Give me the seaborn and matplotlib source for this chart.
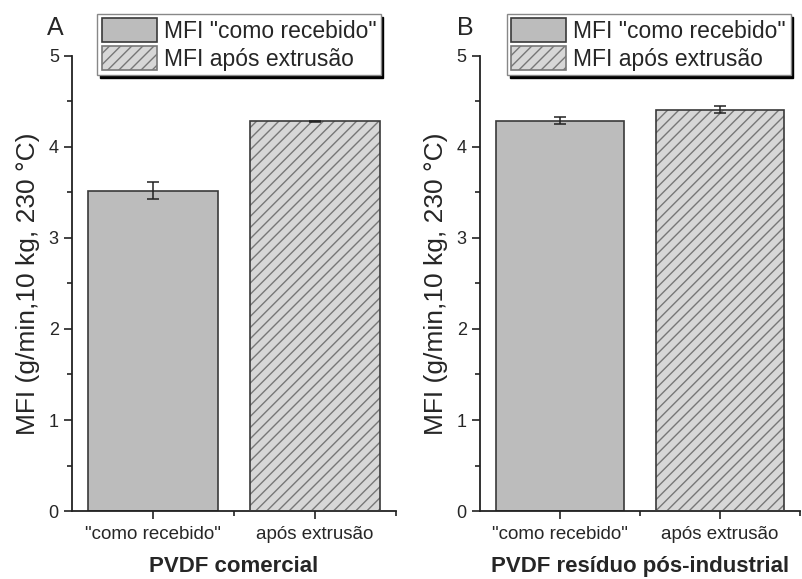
import matplotlib
matplotlib.use("Agg")
import matplotlib.pyplot as plt
from matplotlib.patches import Patch, Rectangle
from matplotlib.ticker import MultipleLocator, FixedLocator
import seaborn as sns
import pandas as pd

sns.set_style("ticks")
plt.rcParams["font.family"] = ["Liberation Sans", "DejaVu Sans"]

# MFI data (g/10 min, 10 kg, 230 °C)
categories = ['"como recebido"', "após extrusão"]
mfi_comercial = [3.52, 4.28]
err_comercial = [0.09, 0.01]
mfi_residuo = [4.29, 4.41]
err_residuo = [0.035, 0.035]
panel_letters = ["A", "B"]
panel_titles = ["PVDF comercial", "PVDF resíduo pós-industrial"]
legend_labels = ['MFI "como recebido"', "MFI após extrusão"]
y_label = "MFI (g/min,10 kg, 230 °C)"

solid_color = "#bcbcbc"
hatch_face = "#d7d7d7"
hatch_line = "#777777"
edge_color = "#3a3a3a"

fig = plt.figure(figsize=(8.02, 5.79), dpi=100)
axes = [fig.add_axes([0.0898, 0.1174, 0.404, 0.786]),
        fig.add_axes([0.5985, 0.1174, 0.399, 0.786])]

datasets = [(mfi_comercial, err_comercial), (mfi_residuo, err_residuo)]
letter_x = [0.0686, 0.580]
legend_x = [0.121, 0.632]

for ax, (vals, errs), letter, title, lx, gx in zip(
        axes, datasets, panel_letters, panel_titles, letter_x, legend_x):
    df = pd.DataFrame({"cat": categories, "mfi": vals})
    sns.barplot(data=df, x="cat", y="mfi", hue="cat",
                palette=[solid_color, hatch_face], width=0.8,
                errorbar=None, legend=False, ax=ax, saturation=1)
    bars = ax.patches
    bars[0].set_edgecolor(edge_color)
    bars[0].set_linewidth(1.2)
    # hatched bar: grey hatch lines, dark outline drawn on top
    hb = bars[1]
    hb.set_edgecolor(hatch_line)
    hb.set_hatch("///")
    hb.set_linewidth(0)
    ax.add_patch(Rectangle((hb.get_x(), hb.get_y()), hb.get_width(),
                           hb.get_height(), fill=False,
                           edgecolor=edge_color, linewidth=1.2, zorder=3))
    ax.errorbar(range(len(vals)), vals, yerr=errs, fmt="none",
                ecolor="#222222", elinewidth=1.1, capsize=4, capthick=1.1,
                zorder=4)

    ax.set_xlim(-0.5, 1.5)
    ax.set_ylim(0, 5)
    ax.yaxis.set_major_locator(MultipleLocator(1))
    ax.yaxis.set_minor_locator(MultipleLocator(0.5))
    ax.xaxis.set_minor_locator(FixedLocator([0.5, 1.5]))
    ax.tick_params(axis="both", which="major", direction="out", length=6,
                   width=1.2, labelsize=13, color="#222222")
    ax.tick_params(axis="x", which="major", labelsize=13.5, pad=5)
    ax.tick_params(axis="both", which="minor", direction="out", length=3.5,
                   width=1.2, color="#222222")
    for s in ["left", "bottom"]:
        ax.spines[s].set_linewidth(1.3)
        ax.spines[s].set_color("#222222")
    sns.despine(ax=ax)
    ax.set_ylabel(y_label, fontsize=19, labelpad=6)
    ax.set_xlabel(title, fontsize=16, fontweight="bold", labelpad=9)

    fig.text(lx, 0.951, letter, fontsize=18, ha="center", va="center")

    handles = [Patch(facecolor=solid_color, edgecolor=edge_color, linewidth=1.2),
               Patch(facecolor=hatch_face, edgecolor=hatch_line, hatch="///",
                     linewidth=1.2)]
    leg = ax.legend(handles, legend_labels, loc="upper left",
                    bbox_to_anchor=(gx, 0.976), bbox_transform=fig.transFigure,
                    fontsize=16.5, frameon=True, fancybox=False,
                    shadow={"facecolor": "black", "edgecolor": "black",
                            "alpha": 1},
                    handlelength=2.4, handleheight=1.2, handletextpad=0.3,
                    borderpad=0.2, labelspacing=0.15, borderaxespad=0)
    leg.get_frame().set_edgecolor("#888888")
    leg.get_frame().set_linewidth(1.0)

fig.savefig("out.png", dpi=100)
